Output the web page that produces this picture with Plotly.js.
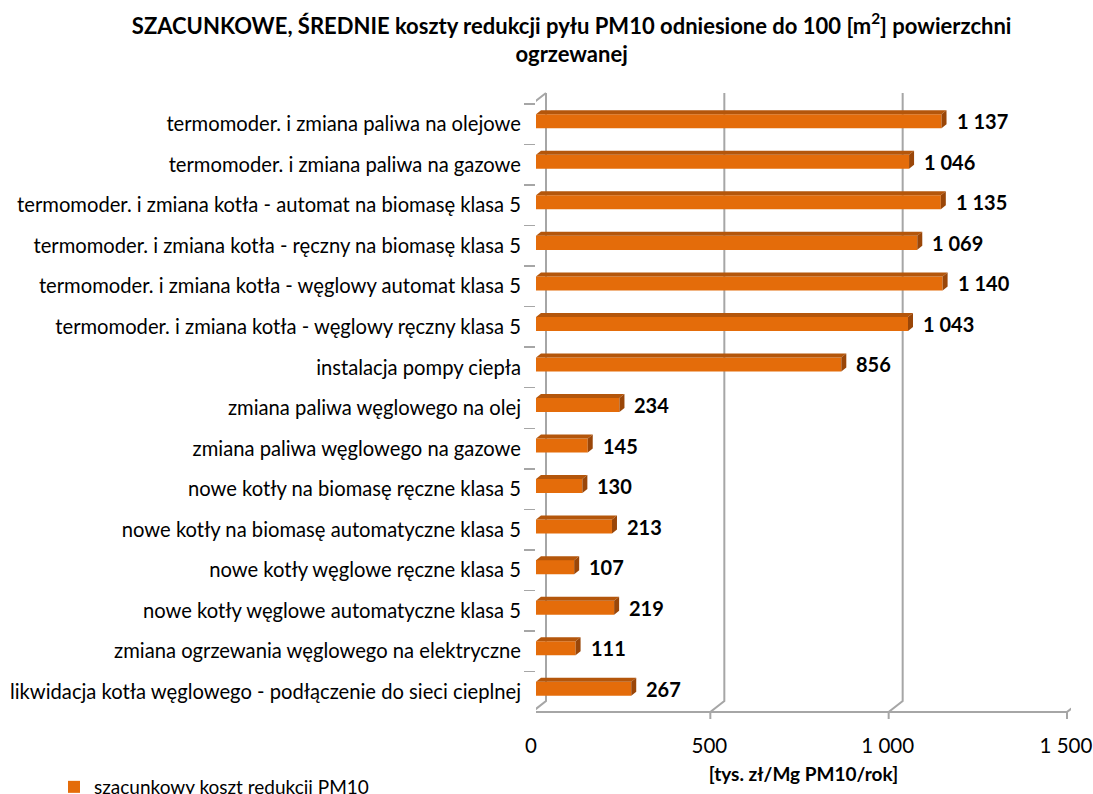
<!DOCTYPE html>
<html>
<head>
<meta charset="utf-8">
<script src="https://cdn.plot.ly/plotly-3.0.1.min.js"></script>
<style>
  html, body { margin: 0; padding: 0; background: #fff; }
  #chart { width: 1093px; height: 794px; }
</style>
</head>
<body>
<div id="chart"></div>
<script>
// ---- data ----
const categories = [
  'termomoder. i zmiana paliwa na olejowe',
  'termomoder. i zmiana paliwa na gazowe',
  'termomoder. i zmiana kotła - automat na biomasę klasa 5',
  'termomoder. i zmiana kotła - ręczny na biomasę klasa 5',
  'termomoder. i zmiana kotła - węglowy automat klasa 5',
  'termomoder. i zmiana kotła - węglowy ręczny klasa 5',
  'instalacja pompy ciepła',
  'zmiana paliwa węglowego na olej',
  'zmiana paliwa węglowego na gazowe',
  'nowe kotły na biomasę ręczne klasa 5',
  'nowe kotły na biomasę automatyczne klasa 5',
  'nowe kotły węglowe ręczne klasa 5',
  'nowe kotły węglowe automatyczne klasa 5',
  'zmiana ogrzewania węglowego na elektryczne',
  'likwidacja kotła węglowego - podłączenie do sieci cieplnej'
];
const values = [1137, 1046, 1135, 1069, 1140, 1043, 856, 234, 145, 130, 213, 107, 219, 111, 267];
const xTickVals = [0, 500, 1000, 1500];
const seriesName = 'szacunkowy koszt redukcji PM10';
const chartTitle = 'SZACUNKOWE, ŚREDNIE koszty redukcji pyłu PM10 odniesione do 100 [m<sup>2</sup>] powierzchni<br>ogrzewanej';
const xTitle = '[tys. zł/Mg PM10/rok]';

// ---- style ----
const FONT = 'Lato, "Open Sans", sans-serif';
const ORANGE = '#E46C0A';
const TOP = '#B4560B';
const SIDE = '#9A4608';
const GRID = '#A6A6A6';
const PLOT_L = 536, PLOT_R = 22, PLOT_T = 104, PLOT_B = 82;
const XMAX = 1500;
const PLOT_W = 1093 - PLOT_L - PLOT_R;
const PLOT_H = 794 - PLOT_T - PLOT_B;
const UNITS_PER_PX = XMAX / PLOT_W;
const DEPTH = 5; // px depth of bar side

function fmt(v) { return String(v).replace(/\B(?=(\d{3})+(?!\d))/g, ' '); }

const trace = {
  type: 'bar',
  orientation: 'h',
  name: seriesName,
  y: categories,
  x: values,
  width: 0.346,
  offset: -0.247,
  marker: { color: ORANGE, line: { width: 0 } },
  hoverinfo: 'x+y'
};

const shapes = [];
// back-wall gridlines with perspective foot + front tick
xTickVals.forEach(v => {
  shapes.push({
    type: 'path', layer: 'below',
    xref: 'x', xsizemode: 'pixel', xanchor: v,
    yref: 'paper', ysizemode: 'pixel', yanchor: 0,
    path: 'M -4,-7 L -4,0 L 10,11 L 10,619',
    line: { color: GRID, width: 2 }
  });
});
// front left wall edge
shapes.push({
  type: 'path', layer: 'below',
  xref: 'x', xsizemode: 'pixel', xanchor: 0,
  yref: 'paper', ysizemode: 'pixel', yanchor: 0,
  path: 'M -3,0 L -3,609 L 10,619',
  line: { color: GRID, width: 2 }
});
// front floor edge
shapes.push({
  type: 'path', layer: 'below',
  xref: 'x', yref: 'paper',
  path: 'M ' + (-4 * UNITS_PER_PX) + ',0 L ' + (XMAX - 4 * UNITS_PER_PX) + ',0',
  line: { color: GRID, width: 2 }
});
// 3D faces of bars
const dx = DEPTH * UNITS_PER_PX;
categories.forEach((c, i) => {
  const v = values[i];
  shapes.push({
    type: 'path', layer: 'above',
    xref: 'x', yref: 'y', ysizemode: 'pixel', yanchor: c,
    path: 'M 0,10 L ' + v + ',10 L ' + (v + dx) + ',14 L ' + dx + ',14 Z',
    fillcolor: TOP, line: { width: 0 }
  });
  shapes.push({
    type: 'path', layer: 'above',
    xref: 'x', yref: 'y', ysizemode: 'pixel', yanchor: c,
    path: 'M ' + v + ',10 L ' + v + ',-4 L ' + (v + dx) + ',0 L ' + (v + dx) + ',14 Z',
    fillcolor: SIDE, line: { width: 0 }
  });
});

const annotations = categories.map((c, i) => ({
  x: values[i], y: c, xref: 'x', yref: 'y',
  text: fmt(values[i]), showarrow: false,
  xanchor: 'left', yanchor: 'middle', xshift: 13, yshift: 3,
  font: { family: FONT, size: 20, color: '#000', weight: 700 }
}));

const layout = {
  width: 1093, height: 794,
  margin: { l: PLOT_L, r: PLOT_R, t: PLOT_T, b: PLOT_B, autoexpand: false },
  paper_bgcolor: '#fff', plot_bgcolor: 'rgba(0,0,0,0)',
  separators: ', ',
  font: { family: FONT, color: '#000' },
  title: {
    text: chartTitle,
    font: { family: FONT, size: 22, color: '#000', weight: 700 },
    xref: 'container', x: 0.523, xanchor: 'center',
    yref: 'container', y: 1 - 33.5 / 794, yanchor: 'middle'
  },
  xaxis: {
    range: [0, XMAX], fixedrange: true,
    tickvals: xTickVals, tickformat: ',d', separatethousands: true,
    ticks: 'outside', ticklen: 15, tickcolor: 'rgba(0,0,0,0)',
    ticklabelshift: -5, ticklabeloverflow: 'allow',
    showgrid: false, zeroline: false, showline: false,
    tickfont: { family: FONT, size: 20.5, color: '#000' },
    title: { text: xTitle, standoff: 12, font: { family: FONT, size: 19, color: '#000', weight: 700 } }
  },
  yaxis: {
    type: 'category', autorange: 'reversed', fixedrange: true,
    tickson: 'boundaries', ticks: 'outside', ticklen: 11, tickwidth: 1.5, tickcolor: GRID,
    ticklabelstandoff: 14,
    showgrid: false, zeroline: false, showline: false,
    tickfont: { family: FONT, size: 20.2, color: '#000' }
  },
  showlegend: true,
  legend: {
    x: (54 - PLOT_L) / PLOT_W, xanchor: 'left',
    y: (794 - PLOT_B - 787) / PLOT_H, yanchor: 'middle',
    font: { family: FONT, size: 19, color: '#000' },
    bgcolor: 'rgba(0,0,0,0)'
  },
  shapes: shapes,
  annotations: annotations,
  bargap: 0.5
};

Plotly.newPlot('chart', [trace], layout, { displayModeBar: false, staticPlot: true });
</script>
</body>
</html>
